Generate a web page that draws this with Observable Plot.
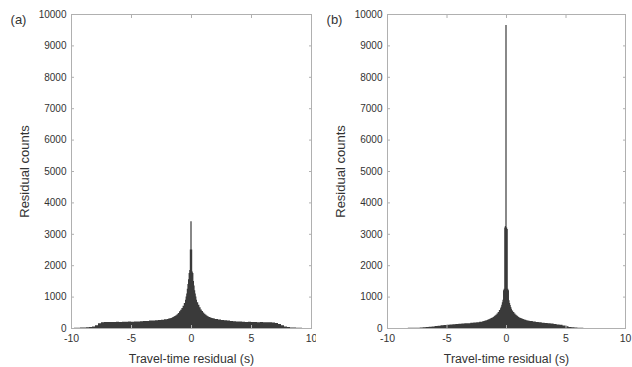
<!DOCTYPE html>
<html>
<head>
<meta charset="utf-8">
<script src="https://cdn.jsdelivr.net/npm/d3@7"></script>
<script src="https://cdn.jsdelivr.net/npm/@observablehq/plot@0.6"></script>
<style>
  html, body { margin: 0; padding: 0; background: #fff; }
  #wrap { position: relative; width: 632px; height: 367px; overflow: hidden; }
  .panel { position: absolute; top: 0; }
  .panel svg { overflow: visible; }
</style>
</head>
<body>
<div id="wrap"><div class="panel" id="pa" style="left:0px"></div><div class="panel" id="pb" style="left:316px"></div></div>
<script>
// Bin edges (s): 0.25 s in the tails, 0.1 s near the centre, 0.05 s at the peak
const edges = [
  -10, -9.75, -9.5, -9.25, -9, -8.75, -8.5, -8.25, -8, -7.75, -7.5, -7.25, -7, -6.75, -6.5, -6.25,
  -6, -5.75, -5.5, -5.25, -5, -4.75, -4.5, -4.25, -4, -3.75, -3.5, -3.25, -3, -2.75, -2.5, -2.25,
  -2, -1.9, -1.8, -1.7, -1.6, -1.5, -1.4, -1.3, -1.2, -1.1, -1, -0.9, -0.8, -0.7, -0.6,
  -0.5, -0.45, -0.4, -0.35, -0.3, -0.25, -0.2, -0.15, -0.1, -0.05, 0, 0.05, 0.1, 0.15, 0.2, 0.25, 0.3, 0.35, 0.4, 0.45,
  0.5, 0.6, 0.7, 0.8, 0.9, 1, 1.1, 1.2, 1.3, 1.4, 1.5, 1.6, 1.7, 1.8, 1.9,
  2, 2.25, 2.5, 2.75, 3, 3.25, 3.5, 3.75, 4, 4.25, 4.5, 4.75, 5, 5.25, 5.5, 5.75,
  6, 6.25, 6.5, 6.75, 7, 7.25, 7.5, 7.75, 8, 8.25, 8.5, 8.75, 9, 9.25, 9.5, 9.75, 10
];

// Panel (a) counts per bin
const countsA = [
  3, 5, 8, 12, 18, 25, 35, 50, 90, 150, 180, 190, 195, 190, 195, 200,
  195, 200, 200, 205, 200, 210, 210, 215, 220, 225, 235, 240, 250, 255, 265, 275,
  290, 300, 310, 320, 340, 360, 380, 410, 440, 480, 530, 580, 640, 710, 800,
  900, 1000, 1100, 1250, 1400, 1550, 1750, 1850, 2500, 3400, 3400, 2500, 1800, 1750, 1500, 1350, 1200, 1100, 1000, 900,
  820, 740, 660, 590, 540, 490, 450, 420, 390, 370, 350, 335, 320, 310, 300,
  285, 270, 255, 245, 235, 225, 215, 210, 205, 200, 195, 200, 190, 195, 185, 190,
  185, 180, 185, 175, 160, 130, 90, 50, 28, 18, 12, 8, 5, 3, 2, 1
];

// Panel (b) counts per bin
const countsB = [
  0, 0, 0, 1, 1, 2, 3, 4, 5, 7, 10, 14, 20, 28, 38, 50,
  62, 75, 85, 95, 105, 115, 120, 130, 135, 140, 150, 155, 165, 175, 185, 200,
  215, 225, 235, 250, 265, 280, 295, 315, 335, 360, 390, 420, 460, 510, 570,
  630, 680, 740, 820, 900, 1200, 1250, 3200, 3250, 9650, 9650, 3200, 3150, 1250, 1200, 880, 800, 730, 670, 610,
  560, 510, 460, 420, 390, 360, 335, 315, 300, 285, 270, 260, 250, 240, 230,
  220, 205, 190, 180, 170, 160, 150, 140, 130, 115, 100, 80, 55, 35, 20, 12,
  8, 5, 3, 2, 1, 1, 0, 0, 0, 0, 0, 0, 0, 0, 0, 0
];

const xTicks = [-10, -5, 0, 5, 10];
const yTicks = [0, 1000, 2000, 3000, 4000, 5000, 6000, 7000, 8000, 9000, 10000];
const panelLabels = ["(a)", "(b)"];
const xLabel = "Travel-time residual (s)";
const yLabel = "Residual counts";

// Step outline of the histogram: each edge carries the count of the bin that starts there
function steps(counts) {
  return edges.map((e, i) => ({x: e, y: counts[Math.min(i, counts.length - 1)]}));
}

function panel(counts, tag, marginRight) {
  const ink = "#333";
  const barCol = "#3a3a3a";
  const frameCol = "#b0b0b0";
  return Plot.plot({
    width: 316,
    height: 367,
    marginLeft: 71,
    marginRight: marginRight,
    marginTop: 14,
    marginBottom: 39,
    style: {fontFamily: "'Liberation Sans', Arial, sans-serif", fontSize: "10px", color: ink, background: "#fff", overflow: "visible"},
    x: {domain: [-10, 10]},
    y: {domain: [0, 10000]},
    marks: [
      Plot.areaY(steps(counts), {x: "x", y: "y", curve: "step-after", fill: barCol}),
      Plot.frame({stroke: frameCol}),
      Plot.axisX({anchor: "bottom", ticks: xTicks, tickSize: 0, tickPadding: 6, tickFormat: d => d < 0 ? "-" + Math.abs(d) : String(d), fill: ink, label: null, fontSize: 10.5}),
      Plot.axisX({anchor: "bottom", ticks: [], label: xLabel, labelAnchor: "center", labelArrow: "none", labelOffset: 34, fontSize: 12.3, fill: ink}),
      Plot.axisX({anchor: "bottom", ticks: xTicks, tickSize: -3, stroke: frameCol, text: null, label: null}),
      Plot.axisX({anchor: "top", ticks: xTicks, tickSize: -3, stroke: frameCol, text: null, label: null}),
      Plot.axisY({anchor: "left", ticks: yTicks, tickSize: 0, tickPadding: 5, tickFormat: d => String(d), fill: ink, label: null, fontSize: 10}),
      Plot.axisY({anchor: "left", ticks: [], label: yLabel, labelAnchor: "center", labelArrow: "none", labelOffset: 52, fontSize: 13, fill: ink}),
      Plot.axisY({anchor: "left", ticks: yTicks, tickSize: -3, stroke: frameCol, text: null, label: null}),
      Plot.axisY({anchor: "right", ticks: yTicks, tickSize: -3, stroke: frameCol, text: null, label: null}),
      Plot.text([tag], {text: d => d, frameAnchor: "top-left", textAnchor: "middle", lineAnchor: "middle", dx: -53, dy: 5, fontSize: 13, fill: ink})
    ]
  });
}

document.getElementById("pa").append(panel(countsA, panelLabels[0], 5));
document.getElementById("pb").append(panel(countsB, panelLabels[1], 7));
</script>
</body>
</html>
